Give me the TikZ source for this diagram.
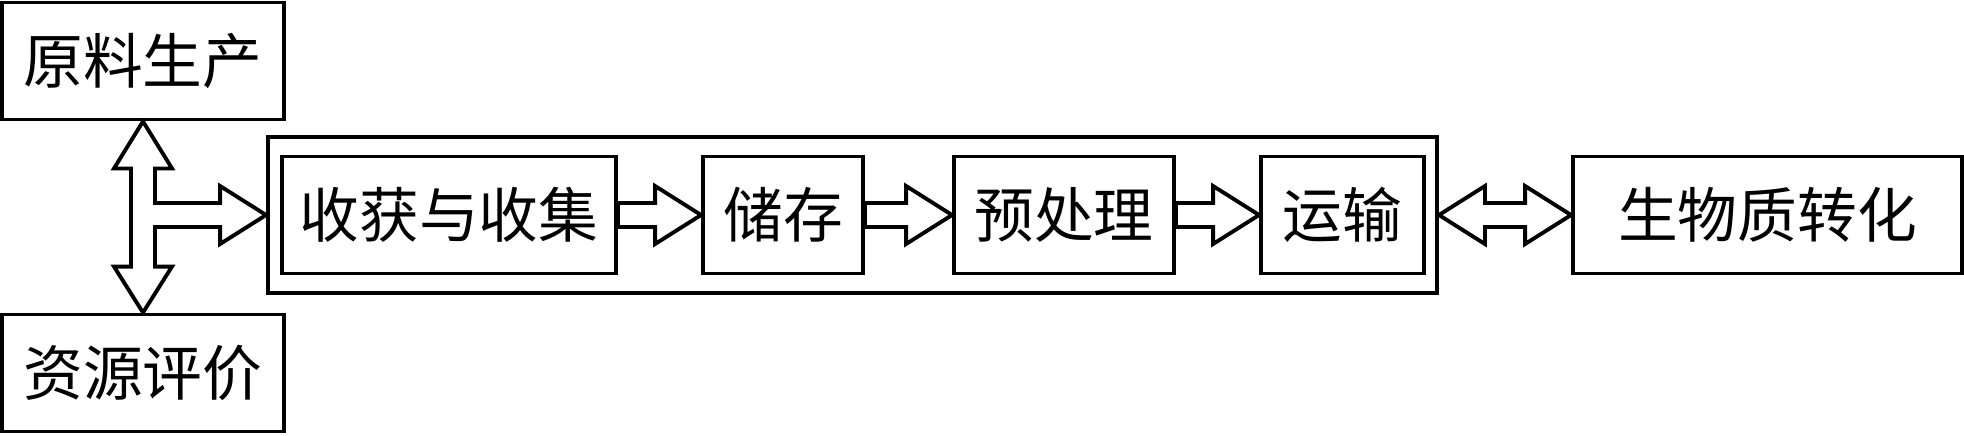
\documentclass[tikz,border=0pt]{standalone}
\usepackage{fontspec}
\newfontfamily\cjk{Noto Sans CJK SC}
\usetikzlibrary{calc}

\begin{document}
\begin{tikzpicture}[
    blk/.style={draw, line width=1.1pt, minimum height=1.17cm, inner sep=0pt,
      font=\cjk\fontsize{17}{20}\selectfont},
    arr/.style={draw, line width=1.1pt}
  ]
  \useasboundingbox (0,0) rectangle (19.64,4.35);

  % side boxes
  \node[blk, minimum width=2.82cm] (raw) at (1.43,3.74) {原料生产};
  \node[blk, minimum width=2.82cm] (eval) at (1.43,0.62) {资源评价};

  % supply chain
  \node[blk, minimum width=11.69cm, minimum height=1.56cm] (chain) at (8.525,2.20) {};
  \node[blk, minimum width=3.34cm] (harvest) at (4.49,2.20) {收获与收集};
  \node[blk, minimum width=1.60cm] (store) at (7.83,2.20) {储存};
  \node[blk, minimum width=2.20cm] (prep) at (10.64,2.20) {预处理};
  \node[blk, minimum width=1.63cm] (trans) at (13.425,2.20) {运输};

  \node[blk, minimum width=3.89cm] (conv) at (17.675,2.20) {生物质转化};

  % block arrows
  \foreach \a/\b in {harvest/store, store/prep, prep/trans}
    \draw[arr] let \p1=(\a.east), \p2=(\b.west) in
      (\x1,\y1+0.12cm) -- (\x2-0.46cm,\y1+0.12cm) -- ++(0,0.17) -- (\p2)
      -- ++(-0.46,-0.29) -- ++(0,0.17) -- (\x1,\y1-0.12cm) -- cycle;

  \draw[arr] let \p1=(chain.east), \p2=(conv.west) in
    (\p1) -- ++(0.46,0.29) -- ++(0,-0.17) -- (\x2-0.46cm,\y1+0.12cm)
    -- ++(0,0.17) -- (\p2) -- ++(-0.46,-0.29) -- ++(0,0.17)
    -- (\x1+0.46cm,\y1-0.12cm) -- ++(0,-0.17) -- cycle;

  \draw[arr] let \p1=(raw.south), \p2=(eval.north), \p3=(chain.west) in
    (\p1) -- ++(0.29,-0.47) -- ++(-0.17,0) -- (\x1+0.12cm,\y3+0.12cm)
    -- (\x3-0.46cm,\y3+0.12cm) -- ++(0,0.17) -- (\p3) -- ++(-0.46,-0.29)
    -- ++(0,0.17) -- (\x1+0.12cm,\y3-0.12cm) -- (\x1+0.12cm,\y2+0.46cm)
    -- ++(0.17,0) -- (\p2) -- ++(-0.29,0.46) -- ++(0.17,0)
    -- (\x1-0.12cm,\y1-0.47cm) -- ++(-0.17,0) -- cycle;
\end{tikzpicture}
\end{document}
